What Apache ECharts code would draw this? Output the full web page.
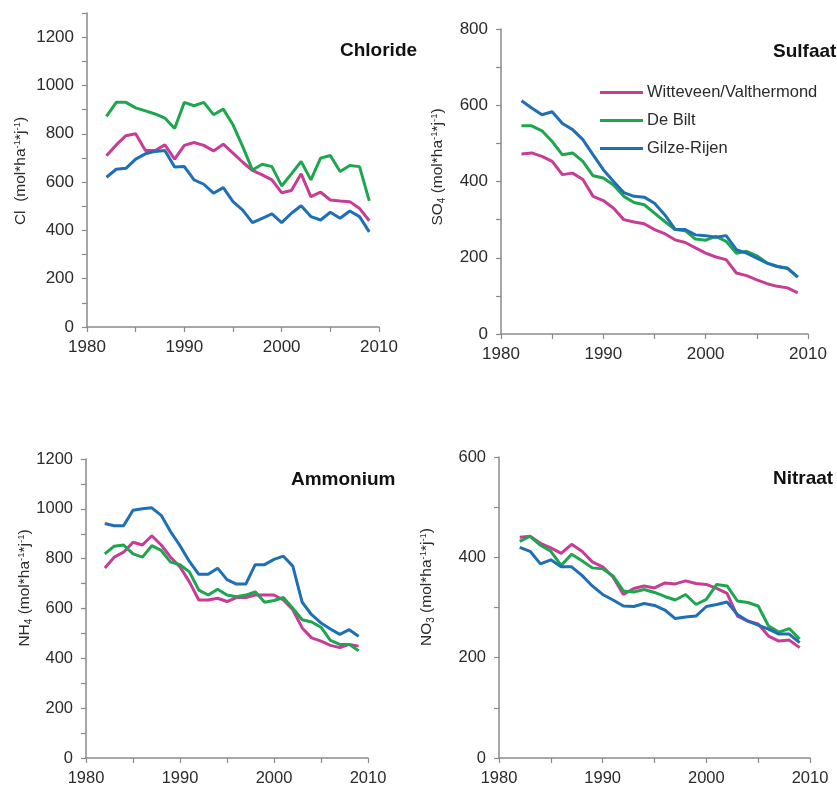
<!DOCTYPE html>
<html>
<head>
<meta charset="utf-8">
<script src="https://cdn.jsdelivr.net/npm/echarts@6/dist/echarts.min.js"></script>
<style>
  html, body { margin: 0; padding: 0; background: #fff; }
  #chart { width: 837px; height: 787px; }
</style>
</head>
<body>
<div id="chart"></div>
<script>
// Annual wet deposition at three stations, 1982-2009 (mol per ha per year)
const years = [1982, 1983, 1984, 1985, 1986, 1987, 1988, 1989, 1990, 1991, 1992, 1993, 1994, 1995,
               1996, 1997, 1998, 1999, 2000, 2001, 2002, 2003, 2004, 2005, 2006, 2007, 2008, 2009];

const stations = ['Witteveen/Valthermond', 'De Bilt', 'Gilze-Rijen'];
const stationColors = ['#C83C96', '#1EA64F', '#1E6FB5'];

// Chloride
const clWitteveen = [709, 754, 792, 800, 731, 731, 754, 695, 752, 764, 752, 729, 757, 720,
                     682, 648, 630, 609, 556, 565, 634, 540, 558, 526, 522, 519, 491, 440];
const clDeBilt    = [872, 930, 930, 907, 895, 882, 865, 822, 930, 916, 930, 879, 902, 837,
                     747, 650, 674, 664, 584, 634, 685, 609, 699, 710, 644, 669, 664, 522];
const clGilze     = [620, 653, 657, 695, 717, 727, 731, 662, 664, 609, 591, 554, 577, 519,
                     484, 432, 450, 468, 432, 471, 502, 457, 443, 475, 450, 480, 457, 394];

// Sulfate
const so4Witteveen = [472, 475, 466, 453, 418, 422, 405, 361, 350, 330, 300, 294, 289, 274,
                      263, 247, 240, 226, 212, 202, 195, 160, 153, 142, 132, 125, 121, 108];
const so4DeBilt    = [546, 546, 533, 505, 470, 475, 453, 415, 409, 391, 361, 345, 339, 317,
                      295, 274, 271, 249, 246, 256, 243, 212, 217, 205, 186, 177, 173, 149];
const so4Gilze     = [612, 593, 575, 583, 552, 536, 510, 470, 431, 400, 371, 361, 359, 343,
                      313, 275, 274, 260, 258, 254, 258, 221, 212, 199, 186, 177, 172, 149];

// Ammonium
const nh4Witteveen = [763, 806, 826, 866, 855, 892, 855, 806, 767, 707, 634, 634, 641, 628,
                      644, 644, 654, 654, 654, 634, 595, 522, 482, 469, 452, 443, 456, 449];
const nh4DeBilt    = [819, 850, 855, 819, 806, 852, 833, 786, 776, 747, 674, 654, 677, 654,
                      647, 654, 667, 625, 632, 644, 601, 555, 546, 525, 472, 456, 456, 430];
const nh4Gilze     = [941, 932, 932, 994, 1000, 1004, 974, 908, 852, 789, 737, 737, 762, 716,
                      698, 698, 776, 776, 797, 810, 770, 625, 575, 542, 518, 496, 515, 489];

// Nitrate
const no3Witteveen = [440, 442, 428, 419, 408, 426, 412, 391, 381, 361, 326, 338, 343, 339,
                      349, 347, 353, 348, 346, 338, 328, 283, 273, 267, 243, 233, 235, 220];
const no3DeBilt    = [432, 442, 424, 412, 384, 406, 393, 379, 377, 363, 333, 331, 336, 330,
                      322, 315, 326, 306, 316, 346, 343, 313, 310, 303, 263, 251, 258, 237];
const no3Gilze     = [420, 412, 387, 395, 381, 381, 364, 343, 326, 315, 303, 302, 308, 304,
                      295, 278, 281, 283, 302, 306, 311, 286, 273, 265, 257, 247, 247, 230];

const xTickLabels = [1980, 1990, 2000, 2010];

const FONT = '"Liberation Sans", Arial, Helvetica, sans-serif';
const AXIS_COLOR = '#8a8a8a';
const TEXT_COLOR = '#2b2b2b';

const panels = [
  { title: 'Chloride',  data: [clWitteveen, clDeBilt, clGilze],
    grid: { left: 87, top: 13, width: 292, height: 314 }, yMax: 1300, fs: 17,
    titlePos: [335, 36], namePos: [21, 171], nameMain: 'Cl  (mol*ha', nameSub: '' },
  { title: 'Sulfaat',   data: [so4Witteveen, so4DeBilt, so4Gilze],
    grid: { left: 501, top: 29, width: 307, height: 305 }, yMax: 800, fs: 17,
    titlePos: [768, 37], namePos: [438, 167], nameMain: 'SO', nameSub: '4' },
  { title: 'Ammonium',  data: [nh4Witteveen, nh4DeBilt, nh4Gilze],
    grid: { left: 86, top: 459, width: 282, height: 303 }, yMax: 1200, fs: 16.5,
    titlePos: [286, 465], namePos: [25, 588], nameMain: 'NH', nameSub: '4' },
  { title: 'Nitraat',   data: [no3Witteveen, no3DeBilt, no3Gilze],
    grid: { left: 499, top: 457, width: 311, height: 302 }, yMax: 600, fs: 16.5,
    titlePos: [768, 464], namePos: [427, 587], nameMain: 'NO', nameSub: '3' }
];

// Rotated y-axis caption with chemical subscript and -1 exponents
function axisNameText(p) {
  if (p.nameSub) {
    return '{t|' + p.nameMain + '}{sb|' + p.nameSub + '}{t| (mol*ha}{sp|-1}{t|*j}{sp|-1}{t|)}';
  }
  return '{t|' + p.nameMain + '}{sp|-1}{t|*j}{sp|-1}{t|)}';
}

const grids = [], xAxes = [], yAxes = [], series = [], titles = [], graphics = [];

panels.forEach((p, i) => {
  grids.push(p.grid);
  xAxes.push({
    type: 'value', gridIndex: i, min: 1980, max: 2010, interval: 5,
    axisLine: { show: true, lineStyle: { color: AXIS_COLOR, width: 1.5 } },
    axisTick: { show: true, length: 5, lineStyle: { color: AXIS_COLOR, width: 1.2 } },
    splitLine: { show: false },
    axisLabel: {
      fontFamily: FONT, fontSize: p.fs, color: TEXT_COLOR, margin: 12,
      formatter: v => (xTickLabels.indexOf(v) >= 0 ? String(v) : '')
    }
  });
  yAxes.push({
    type: 'value', gridIndex: i, min: 0, max: p.yMax, interval: 100,
    axisLine: { show: true, lineStyle: { color: AXIS_COLOR, width: 1.5 } },
    axisTick: { show: true, length: 5, lineStyle: { color: AXIS_COLOR, width: 1.2 } },
    splitLine: { show: false },
    axisLabel: {
      fontFamily: FONT, fontSize: p.fs, color: TEXT_COLOR, margin: 13,
      formatter: v => (v % 200 === 0 ? String(v) : '')
    }
  });
  p.data.forEach((vals, k) => {
    series.push({
      type: 'line', name: stations[k], xAxisIndex: i, yAxisIndex: i,
      data: years.map((y, j) => [y, vals[j]]),
      showSymbol: false, symbol: 'none', smooth: false,
      lineStyle: { color: stationColors[k], width: 3 },
      itemStyle: { color: stationColors[k] },
      z: k === 2 ? 3 : 2
    });
  });
  titles.push({
    text: p.title, left: p.titlePos[0], top: p.titlePos[1],
    textStyle: { fontFamily: FONT, fontSize: 19, fontWeight: 'bold', color: '#111' }
  });
  graphics.push({
    type: 'text', x: p.namePos[0], y: p.namePos[1], rotation: Math.PI / 2,
    style: {
      text: p.nameSub ? axisNameText(p) : '{t|Cl  (mol*ha}{sp|-1}{t|*j}{sp|-1}{t|)}',
      align: 'center', verticalAlign: 'middle',
      fill: TEXT_COLOR, fontFamily: FONT,
      rich: {
        t: { fontFamily: FONT, fontSize: 15.5, lineHeight: 18, fill: TEXT_COLOR },
        sp: { fontFamily: FONT, fontSize: 9.5, lineHeight: 11, verticalAlign: 'top', fill: TEXT_COLOR },
        sb: { fontFamily: FONT, fontSize: 10, lineHeight: 11, verticalAlign: 'bottom', fill: TEXT_COLOR }
      }
    }
  });
});

const chart = echarts.init(document.getElementById('chart'), null, { renderer: 'canvas' });
chart.setOption({
  backgroundColor: '#ffffff',
  animation: false,
  title: titles,
  grid: grids,
  xAxis: xAxes,
  yAxis: yAxes,
  series: series,
  graphic: graphics,
  legend: {
    data: stations, orient: 'vertical', left: 595, top: 79,
    icon: 'rect', itemWidth: 43, itemHeight: 3, itemGap: 11,
    textStyle: { fontFamily: FONT, fontSize: 16.5, color: TEXT_COLOR, padding: [0, 0, 0, -1] },
    selectedMode: false
  }
});
</script>
</body>
</html>
